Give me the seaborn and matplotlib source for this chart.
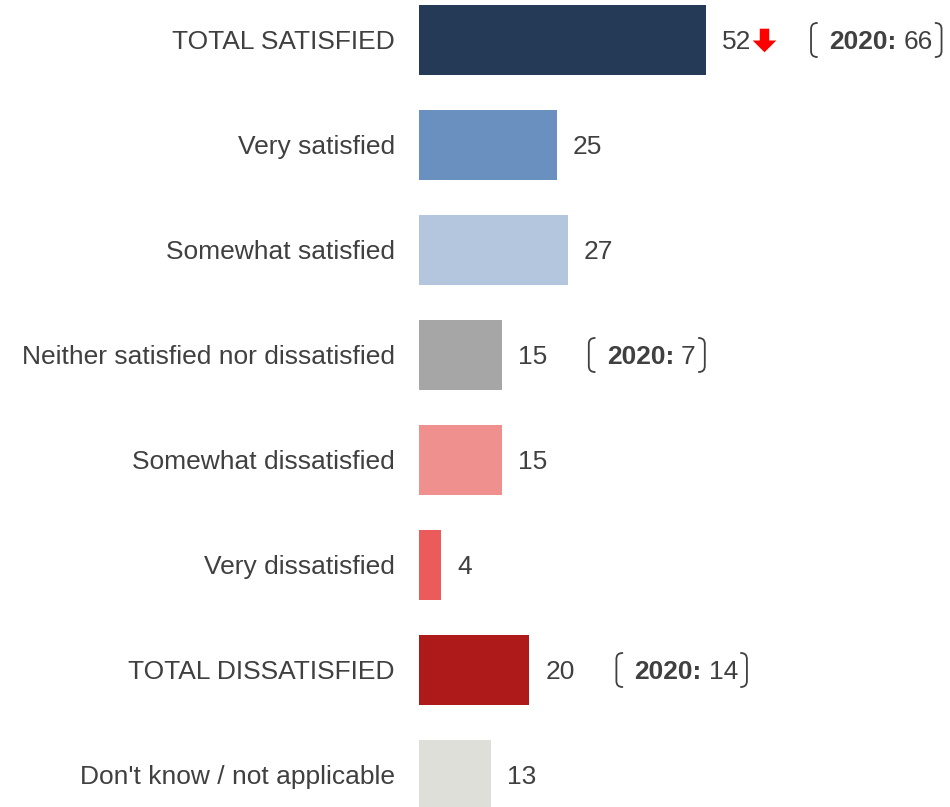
import matplotlib
matplotlib.use("Agg")
import matplotlib.pyplot as plt
from matplotlib.path import Path
from matplotlib.patches import PathPatch
import seaborn as sns
import pandas as pd

categories = [
    "TOTAL SATISFIED",
    "Very satisfied",
    "Somewhat satisfied",
    "Neither satisfied nor dissatisfied",
    "Somewhat dissatisfied",
    "Very dissatisfied",
    "TOTAL DISSATISFIED",
    "Don't know / not applicable",
]
values = [52, 25, 27, 15, 15, 4, 20, 13]
prior_2020 = [66, None, None, 7, None, None, 14, None]
significant_drop = [True, False, False, False, False, False, False, False]
colors = ["#243A56", "#6A90BF", "#B4C6DE", "#A6A6A6",
          "#F0908E", "#EB5B5B", "#AE1A19", "#DFDFDA"]

sns.set_theme(style="white")
plt.rcParams["font.family"] = ["Liberation Sans", "DejaVu Sans"]

TEXT = "#404040"
W, H, DPI = 950, 807, 100
fig = plt.figure(figsize=(W / DPI, H / DPI), dpi=DPI)
ax = fig.add_axes([0, 0, 1, 1])

df = pd.DataFrame({"category": categories, "value": values})
sns.barplot(data=df, x="value", y="category", hue="category",
            palette=colors, legend=False, width=0.667, ax=ax,
            saturation=1, orient="h", linewidth=0)

# scale: bars start at pixel 419, 5.52 px per unit; rows 105 px apart
px_per_unit = 5.52
ax.set_xlim(-419 / px_per_unit, (W - 419) / px_per_unit)
ax.set_ylim(7 + 32 / 105, -40 / 105)
ax.axis("off")

fs = 19
for i, (cat, v) in enumerate(zip(categories, values)):
    ax.text(-24 / px_per_unit, i + 0.02, cat, ha="right", va="center",
            fontsize=fs, color=TEXT)

fig.canvas.draw()
renderer = fig.canvas.get_renderer()
to_data = ax.transData.inverted()


def px_to_data(x, y):
    return to_data.transform((x, y))


for i, v in enumerate(values):
    t = ax.annotate(str(v), xy=(v, i + 0.02), xytext=(16 * 72 / DPI, 0),
                    textcoords="offset points", ha="left", va="center",
                    fontsize=fs, color=TEXT)
    fig.canvas.draw()
    bb = t.get_window_extent(renderer)
    end_px = bb.x1
    cy = ax.transData.transform((0, i))[1]
    if significant_drop[i]:
        s = 17
        arrow = Path([(-0.2, 0.5), (0.2, 0.5), (0.2, 0.0), (0.5, 0.0),
                      (0, -0.5), (-0.5, 0.0), (-0.2, 0.0), (-0.2, 0.5)],
                     closed=True)
        ax.plot([px_to_data(end_px + 4 + s / 2, cy)[0]], [i], marker=arrow,
                markersize=s, color="#FF0000", markeredgewidth=0)
    if prior_2020[i] is not None:
        bar_end_px = ax.transData.transform((v, i))[0]
        left_px = bar_end_px + (105 if significant_drop[i] else 87)
        tx = px_to_data(left_px + 18, cy)[0]
        t1 = ax.text(tx, i + 0.02, "2020:", ha="left", va="center",
                     fontsize=fs, color=TEXT, fontweight="bold")
        fig.canvas.draw()
        b1 = t1.get_window_extent(renderer)
        t2 = ax.text(px_to_data(b1.x1 + 7, cy)[0], i + 0.02,
                     str(prior_2020[i]), ha="left", va="center",
                     fontsize=fs, color=TEXT)
        fig.canvas.draw()
        b2 = t2.get_window_extent(renderer)
        right_px = b2.x1 + 9
        half = 17
        hook = 6
        for xe, d in ((left_px, 1), (right_px, -1)):
            codes = [Path.MOVETO, Path.CURVE3, Path.CURVE3,
                     Path.LINETO, Path.CURVE3, Path.CURVE3]
            # thin bracket with rounded corners
            verts = [(xe + d * hook, cy + half), (xe, cy + half),
                     (xe, cy + half - 6), (xe, cy - half + 6),
                     (xe, cy - half), (xe + d * hook, cy - half)]
            verts = [tuple(px_to_data(x, y)) for x, y in verts]
            ax.add_patch(PathPatch(Path(verts, codes), fill=False,
                                   edgecolor=TEXT, lw=1.3, capstyle="round"))

fig.savefig("out.png", dpi=DPI)
